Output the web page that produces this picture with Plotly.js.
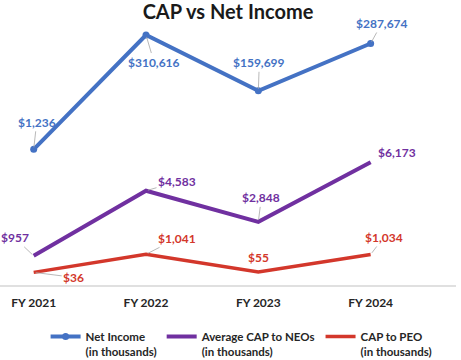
<!DOCTYPE html>
<html>
<head>
<meta charset="utf-8">
<script src="https://cdn.plot.ly/plotly-3.0.1.min.js"></script>
<style>html,body{margin:0;padding:0;background:#fff;}#chart{width:461px;height:360px;}</style>
</head>
<body>
<div id="chart"></div>
<script>
const categories = ["FY 2021", "FY 2022", "FY 2023", "FY 2024"];
const netIncome = [1236, 310616, 159699, 287674];
const avgCapNeos = [957, 4583, 2848, 6173];
const capPeo = [36, 1041, 55, 1034];
const seriesNames = ["Net Income<br>(in thousands)", "Average CAP to NEOs<br>(in thousands)", "CAP to PEO<br>(in thousands)"];

const BLUE = "#4472C4", PURPLE = "#7030A0", RED = "#D3372B";
const FONT = "Lato, 'Open Sans', sans-serif";

const traces = [
  {x: categories, y: netIncome, name: seriesNames[0], type: "scatter", mode: "lines+markers",
   line: {color: BLUE, width: 4}, marker: {color: BLUE, size: 7}, yaxis: "y", cliponaxis: false},
  {x: categories, y: avgCapNeos, name: seriesNames[1], type: "scatter", mode: "lines",
   line: {color: PURPLE, width: 4}, yaxis: "y2", cliponaxis: false},
  {x: categories, y: capPeo, name: seriesNames[2], type: "scatter", mode: "lines",
   line: {color: RED, width: 3.5}, yaxis: "y2", cliponaxis: false}
];

function fmt(v){ return "$" + v.toLocaleString("en-US"); }

// label offsets (px) and whether a leader line is shown
const offsets = {
  blue:   [[3,-27,1],[8,27,1],[1,-28,1],[11,-20,1]],
  purple: [[-19,-18,1],[31,-9,1],[3,-24,1],[26,-10,0]],
  red:    [[40,5,1],[31,-16,1],[0,-15,0],[13,-17,1]]
};

const annotations = [];
function addLabels(vals, yref, color, offs){
  vals.forEach((v,i)=>{
    annotations.push({
      x: categories[i], y: v, xref: "x", yref: yref,
      text: "<b>" + fmt(v) + "</b>",
      font: {family: FONT, size: 12, color: color},
      showarrow: true, arrowhead: 0, arrowwidth: 0.8,
      arrowcolor: offs[i][2] ? "#a6a6a6" : "rgba(0,0,0,0)",
      standoff: 2, startstandoff: 0,
      ax: offs[i][0], ay: offs[i][1]
    });
  });
}
addLabels(netIncome, "y", BLUE, offsets.blue);
addLabels(avgCapNeos, "y2", PURPLE, offsets.purple);
addLabels(capPeo, "y2", RED, offsets.red);

const layout = {
  width: 461, height: 360,
  margin: {l: 0, r: 5, t: 30, b: 75},
  paper_bgcolor: "#fff", plot_bgcolor: "#fff",
  font: {family: FONT, color: "#262626"},
  title: {text: "<b>CAP vs Net Income</b>", x: 0.5, xanchor: "center", xref: "paper",
          y: 0.967, yref: "container", yanchor: "middle",
          font: {family: FONT, size: 20, color: "#1a1a1a"}},
  xaxis: {type: "category", range: [-0.3, 3.76], showgrid: false, zeroline: false,
          showline: true, linecolor: "#e0e0e0", linewidth: 2,
          ticks: "outside", ticklen: 6, tickcolor: "rgba(0,0,0,0)",
          tickfont: {family: FONT, size: 12, color: "#262626", weight: "bold"}},
  yaxis: {range: [-366110, 324200], visible: false, showgrid: false, zeroline: false},
  yaxis2: {range: [-668, 13538], overlaying: "y", visible: false, showgrid: false, zeroline: false},
  showlegend: true,
  legend: {orientation: "h", x: 0.1, xanchor: "left", xref: "paper",
           y: 0.104, yanchor: "top", yref: "container",
           valign: "top", itemwidth: 30, traceorder: "normal",
           font: {family: FONT, size: 11.5, color: "#262626", weight: "bold"}},
  annotations: annotations
};

Plotly.newPlot("chart", traces, layout, {displayModeBar: false, staticPlot: true});
</script>
</body>
</html>
